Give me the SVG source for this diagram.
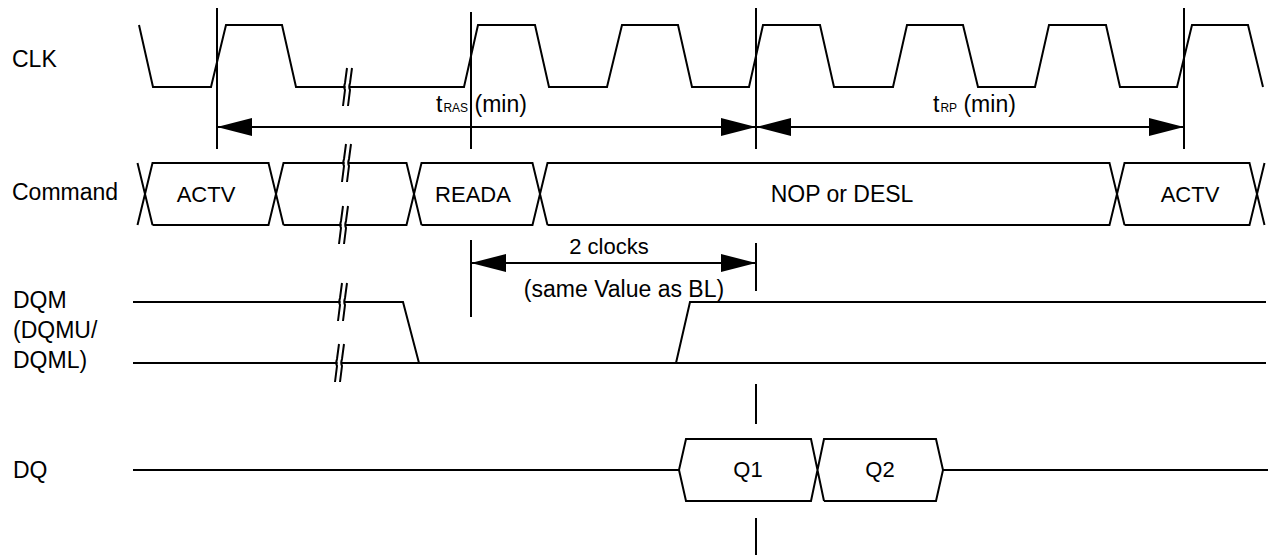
<svg xmlns="http://www.w3.org/2000/svg" width="1268" height="555" viewBox="0 0 1268 555">
<style>
.w{fill:none;stroke:#000;stroke-width:2;stroke-linejoin:miter;stroke-linecap:butt}
.t{font-family:"Liberation Sans",Arial,sans-serif;font-size:22px;fill:#000}
.l{font-size:23px}
.m{text-anchor:middle}
.s{font-size:12px}
</style>
<defs>
<marker id="ah" markerUnits="userSpaceOnUse" viewBox="0 0 35 18" markerWidth="35" markerHeight="18" refX="35" refY="9" orient="auto-start-reverse"><path d="M0,0 L35,9 L0,18 z" fill="#000"/></marker>
<g id="brk">
<rect x="1.6" y="-4" width="3.6" height="8" fill="#fff"/>
<path class="w" d="M3,-19 L1,-4 Q-0.5,0 1,3 L-1,19 M8,-19 L6,-4 Q4.5,0 6,3 L4,19"/>
</g>
</defs>
<rect width="1268" height="555" fill="#fff"/>

<g id="labels">
<text class="t l" x="12" y="67">CLK</text>
<text class="t l" x="12" y="200">Command</text>
<text class="t l" x="13" y="308">DQM</text>
<text class="t l" x="13" y="338">(DQMU/</text>
<text class="t l" x="13" y="368">DQML)</text>
<text class="t l" x="13" y="478">DQ</text>
</g>

<g id="clk">
<path class="w" d="M139,25 L153,87 H211 L226,25 H282 L296,87 H464 L478,25 H535 L549,87 H607 L622,25 H678 L692,87 H749 L763,25 H820 L834,87 H893 L907,25 H963 L978,87 H1035 L1049,25 H1106 L1120,87 H1177 L1192,25 H1248 L1263,87"/>
<use href="#brk" x="344" y="87"/>
</g>

<g id="command">
<path class="w" d="M137.5,163 L152.5,225 M137.5,225 L152.5,163 H268.5 L283.5,225 M268.5,163 L283.5,225 M152.5,225 H268.5 L283.5,163 H406.5 L421.5,225 M283.5,225 H406.5 L421.5,163 H532.5 L547.5,225 M421.5,225 H532.5 L547.5,163 H1109.5 L1124.5,225 M547.5,225 H1109.5 L1124.5,163 H1249.5 L1264.5,225 M1124.5,225 H1249.5 L1264.5,163"/>
<use href="#brk" x="343" y="163"/>
<use href="#brk" x="340" y="225"/>
<text class="t m" x="206" y="202">ACTV</text>
<text class="t m" x="473" y="202">READA</text>
<text class="t m l" x="842" y="202">NOP or DESL</text>
<text class="t m" x="1190" y="202">ACTV</text>
</g>

<g id="dqm">
<path class="w" d="M133,302 H403 L419,363 M133,363 H1266 M676,363 L690,302 H1266"/>
<use href="#brk" x="339" y="302"/>
<use href="#brk" x="336" y="363"/>
</g>

<g id="dq">
<path class="w" d="M133,470 H679 L686,439 H811 L824,501 M679,470 L686,501 H811 L824,439 H936 L943,470 L936,501 H824 M943,470 H1268"/>
<text class="t m" x="748" y="477">Q1</text>
<text class="t m" x="880" y="477">Q2</text>
</g>

<g id="connectors">
<path class="w" d="M217,8 V149 M471,12 V149 M471,240 V317 M756,8 V149 M756,243 V291 M756,384 V424 M756,518 V555 M1184,8 V149"/>
<line class="w" x1="217" y1="127" x2="756" y2="127" marker-start="url(#ah)" marker-end="url(#ah)"/>
<line class="w" x1="756" y1="127" x2="1184" y2="127" marker-start="url(#ah)" marker-end="url(#ah)"/>
<line class="w" x1="471" y1="263" x2="756" y2="263" marker-start="url(#ah)" marker-end="url(#ah)"/>
<text class="t l" x="436" y="112">t<tspan class="s" dx="1">RAS</tspan> (min)</text>
<text class="t l" x="933" y="112">t<tspan class="s" dx="1">RP</tspan> (min)</text>
<text class="t m" x="609" y="254">2 clocks</text>
<text class="t m l" x="624" y="297">(same Value as BL)</text>
</g>
</svg>
